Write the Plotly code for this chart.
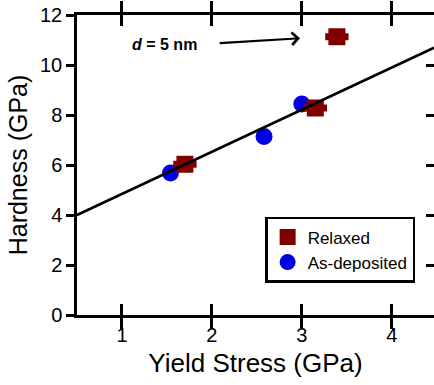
import plotly.graph_objects as go

relaxed_x = [1.70, 3.15, 3.39]
relaxed_y = [6.03, 8.28, 11.13]
relaxed_xerr = [0.13, 0.13, 0.13]

asdep_x = [1.54, 2.58, 3.00]
asdep_y = [5.68, 7.14, 8.44]

fit_x = [0.5, 4.47]
fit_y = [4.0, 10.69]

x_ticks = [1, 2, 3, 4]
y_ticks = [0, 2, 4, 6, 8, 10, 12]

FONT = "Arial, Liberation Sans, sans-serif"
RED = "#800000"
BLUE = "#0000E0"

fig = go.Figure()
fig.add_trace(go.Scatter(x=fit_x, y=fit_y, mode="lines", yaxis="y2",
                         line=dict(color="black", width=2.5), showlegend=False,
                         hoverinfo="skip"))
fig.add_trace(go.Scatter(x=asdep_x, y=asdep_y, mode="markers", name="As-deposited",
                         marker=dict(symbol="circle", size=17, color=BLUE)))
fig.add_trace(go.Scatter(x=relaxed_x, y=relaxed_y, mode="markers", name="Relaxed",
                         marker=dict(symbol="square", size=17, color=RED),
                         error_x=dict(type="data", array=relaxed_xerr, color=RED,
                                      thickness=7, width=0)))

fig.update_layout(
    width=434, height=385,
    margin=dict(l=77, r=0, t=15, b=70),
    paper_bgcolor="white", plot_bgcolor="white",
    font=dict(family=FONT, color="black", size=20),
    showlegend=True,
    legend=dict(x=0.527, y=0.327, xanchor="left", yanchor="top",
                bordercolor="black", borderwidth=2.5, bgcolor="white",
                font=dict(size=17, family=FONT), traceorder="reversed",
                itemwidth=30, tracegroupgap=0),
    xaxis=dict(range=[0.5, 4.47], tickmode="array", tickvals=x_ticks,
               ticktext=[str(v) for v in x_ticks], ticks="inside", ticklen=11,
               tickwidth=2.5, tickcolor="black", showline=True, linewidth=2.5,
               linecolor="black", mirror="allticks", showgrid=False, zeroline=False,
               title=dict(text="Yield Stress (GPa)", font=dict(size=26), standoff=10),
               tickfont=dict(size=20)),
    yaxis=dict(range=[0, 12], tickmode="array", tickvals=y_ticks, ticks="outside",
               ticklen=8, tickwidth=2.5, tickcolor="black", showline=True,
               linewidth=2.5, linecolor="black", showgrid=False, zeroline=False,
               title=dict(text="Hardness (GPa)", font=dict(size=25), standoff=6),
               tickfont=dict(size=20)),
    yaxis2=dict(range=[0, 12], tickmode="array", tickvals=y_ticks, ticks="inside",
                ticklen=8, tickwidth=2.5, tickcolor="black", showline=False,
                overlaying="y", side="right", anchor="x", showticklabels=False,
                showgrid=False, zeroline=False),
)

fig.add_annotation(x=2.98, y=11.07, ax=2.07, ay=10.87, xref="x", yref="y",
                   axref="x", ayref="y", text="", showarrow=True,
                   arrowhead=4, arrowsize=1.1, arrowwidth=2.2, arrowcolor="black")
fig.add_annotation(x=1.47, y=10.84, xref="x", yref="y", text="<b><i>d</i> = 5 nm</b>",
                   showarrow=False, font=dict(size=16, family=FONT, color="black"))

fig.write_html("out.html")
